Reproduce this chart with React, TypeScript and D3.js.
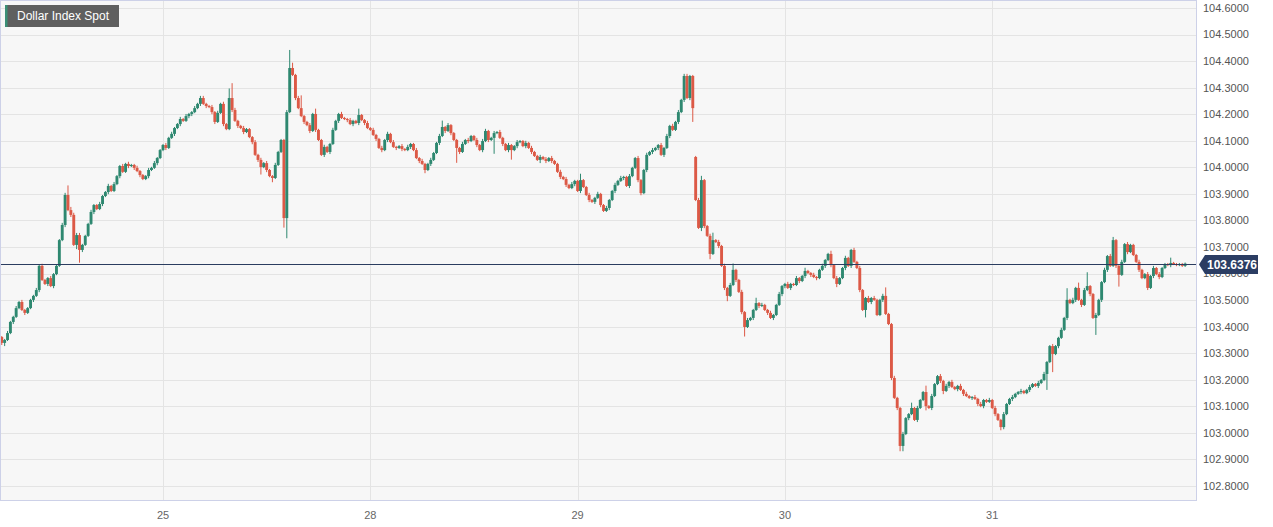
import { useEffect, useRef } from 'react'
import * as d3 from 'd3'

// 20-minute candles, closes (price), one array per trading day
const DAY_LABELS = ['24', '25', '28', '29', '30', '31']
const CANDLE_MINUTES = 20
const FIRST_CANDLE_MINUTE = 320 // 24th, 05:20
const FIRST_OPEN = 103.361

const close24 = [
  103.339, 103.35, 103.376, 103.418, 103.437, 103.47, 103.493, 103.463, 103.452, 103.47,
  103.501, 103.516, 103.538, 103.629, 103.576, 103.561, 103.583, 103.553, 103.598, 103.629,
  103.726, 103.783, 103.896, 103.839, 103.821, 103.708, 103.745, 103.689, 103.708, 103.742,
  103.787, 103.832, 103.858, 103.843, 103.862, 103.892, 103.907, 103.93, 103.911, 103.937,
  103.967, 104.005, 103.983, 104.013, 104.005, 104.009, 103.998, 103.986, 103.971, 103.956,
  103.967, 103.99, 103.998, 104.016, 104.035, 104.065,
]
const close25 = [
  104.084, 104.073, 104.111, 104.126, 104.148, 104.163, 104.182, 104.175, 104.193, 104.201,
  104.208, 104.223, 104.239, 104.261, 104.239, 104.231, 104.227, 104.208, 104.171, 104.205,
  104.239, 104.163, 104.144, 104.261, 104.216, 104.175, 104.156, 104.148, 104.133, 104.144,
  104.114, 104.095, 104.047, 104.028, 104.001, 104.016, 103.99, 103.967, 103.96, 104.009,
  104.058, 104.103, 103.809, 104.208, 104.374, 104.348, 104.261, 104.223, 104.193, 104.171,
  104.159, 104.137, 104.201, 104.141, 104.103, 104.047, 104.077, 104.058, 104.088, 104.141,
  104.175, 104.201, 104.186, 104.182, 104.178, 104.163, 104.175, 104.167, 104.197, 104.178,
  104.167, 104.148,
]
const close28 = [
  104.141, 104.122, 104.107, 104.073, 104.065, 104.103, 104.126, 104.095, 104.077, 104.073,
  104.08, 104.069, 104.065, 104.077, 104.088, 104.065, 104.035, 104.024, 104.013, 103.99,
  104.013, 104.028, 104.054, 104.092, 104.118, 104.152, 104.137, 104.159, 104.129, 104.103,
  104.073, 104.058, 104.088, 104.103, 104.099, 104.118, 104.103, 104.084, 104.065, 104.099,
  104.137, 104.103, 104.111, 104.129, 104.133, 104.111, 104.088, 104.065, 104.084, 104.065,
  104.08, 104.095, 104.099, 104.08, 104.092, 104.073, 104.058, 104.043, 104.028, 104.039,
  104.031, 104.024, 104.035, 104.024, 104.013, 103.983, 103.964, 103.956, 103.934, 103.922,
  103.937, 103.949,
]
const close29 = [
  103.911, 103.952, 103.926, 103.896, 103.877, 103.87, 103.885, 103.9, 103.858, 103.836,
  103.847, 103.877, 103.911, 103.934, 103.949, 103.96, 103.964, 103.93, 103.967, 103.998,
  104.035, 103.952, 103.903, 103.99, 104.047, 104.058, 104.065, 104.073, 104.084, 104.047,
  104.073, 104.118, 104.156, 104.141, 104.171, 104.208, 104.254, 104.344, 104.261, 104.344,
  104.223, 103.877, 103.772, 103.952, 103.779, 103.742, 103.674, 103.726, 103.719, 103.704,
  103.629, 103.546, 103.516, 103.557, 103.614, 103.576, 103.531, 103.455, 103.399, 103.425,
  103.433, 103.463, 103.489, 103.478, 103.482, 103.463, 103.452, 103.433, 103.444, 103.482,
  103.523, 103.553,
]
const close30 = [
  103.561, 103.546, 103.561, 103.557, 103.583, 103.572, 103.591, 103.61, 103.602, 103.595,
  103.587, 103.583, 103.614, 103.629, 103.651, 103.674, 103.632, 103.583, 103.561, 103.583,
  103.621, 103.659, 103.629, 103.689, 103.644, 103.621, 103.538, 103.463, 103.508, 103.493,
  103.508, 103.501, 103.444, 103.501, 103.516, 103.448, 103.41, 103.207, 103.132, 103.094,
  102.951, 102.996, 103.056, 103.071, 103.094, 103.049, 103.094, 103.124, 103.154, 103.101,
  103.094, 103.139, 103.184, 103.214, 103.196, 103.158, 103.177, 103.192, 103.173, 103.165,
  103.177, 103.162, 103.147, 103.139, 103.132, 103.135, 103.128, 103.109, 103.101, 103.124,
  103.117, 103.124,
]
const close31 = [
  103.094, 103.071, 103.049, 103.022, 103.071, 103.109, 103.128, 103.135, 103.147, 103.154,
  103.158, 103.15, 103.162, 103.173, 103.184, 103.177, 103.188, 103.199, 103.222, 103.267,
  103.327, 103.297, 103.327, 103.358, 103.388, 103.433, 103.501, 103.489, 103.501, 103.546,
  103.501, 103.482, 103.538, 103.553, 103.523, 103.433, 103.444, 103.501, 103.568, 103.614,
  103.666, 103.629, 103.726, 103.629, 103.595, 103.644, 103.711, 103.681, 103.708, 103.67,
  103.644, 103.614, 103.583, 103.598, 103.546, 103.591, 103.621, 103.598, 103.587, 103.621,
  103.636, 103.632, 103.64, 103.636, 103.632, 103.636, 103.629, 103.6376,
]

// wick lengths beyond the body, one base-36 digit per candle, in units of WICK_UNIT
const WICK_UNIT = 0.004
const upper24 = '1121121211 1121211211 1229322211 1211211212 1121211211 121211'
const lower24 = '2311211121 1212112121 1121214c21 1121121211 1211212121 121121'
const upper25 = '1212112121 1212211212 1219e21121 1121212112 1112h512c1 1215112112 1121121161 12'
const lower25 = '1211212112 2112121221 1211212121 1212712141 119j112112 1212112121 1211212121 21'
const upper28 = '1211212121 1212112121 1211261211 1121211212 2112121121 1211212112 1212112121 21'
const lower28 = '1121212112 1211211213 1211212121 e211211212 121f112129 1211212113 1212112121 12'
const upper29 = '1611211211 2112121121 1211212112 1212121221 1124112712 1212611212 1151211211 21'
const lower29 = '1211212121 1212112121 1221212121 2121121212 d113215112 1251121291 1212112121 12'
const upper30 = '1211211311 2112113121 1211212112 1211281121 1211512116 1211212121 1212112121 12'
const lower30 = '2121121212 1211212131 1212112171 2111211212 5512112114 1211231211 2121121212 11'
const upper31 = '1211211211 2112112121 121121b121 512d112112 1231121211 1211212121 11511111'
const lower31 = '1213211211 211211211f 1h12112112 121121g121 2112b11211 1211212121 11211111'

// the one candle that opened away from the previous close
const OPEN_GAPS = [{ day: '29', index: 41, open: 104.039 }]

const Y_TICKS = [
  104.6, 104.5, 104.4, 104.3, 104.2, 104.1, 104.0, 103.9, 103.8, 103.7,
  103.6, 103.5, 103.4, 103.3, 103.2, 103.1, 103.0, 102.9, 102.8,
]
const X_TICK_LABELS = ['25', '28', '29', '30', '31']

const CLOSES = [close24, close25, close28, close29, close30, close31]
const UPPERS = [upper24, upper25, upper28, upper29, upper30, upper31]
const LOWERS = [lower24, lower25, lower28, lower29, lower30, lower31]

const GREEN = '#2e8870'
const RED = '#dc5946'
const FONT = '"Liberation Sans", Arial, sans-serif'

interface Candle {
  t: number
  open: number
  high: number
  low: number
  close: number
}

function buildCandles(): Candle[] {
  const out: Candle[] = []
  let prev = FIRST_OPEN
  CLOSES.forEach((closes, di) => {
    const up = UPPERS[di].replace(/\s/g, '')
    const dn = LOWERS[di].replace(/\s/g, '')
    const startMin = di === 0 ? FIRST_CANDLE_MINUTE : 0
    closes.forEach((close, j) => {
      const gap = OPEN_GAPS.find((g) => g.day === DAY_LABELS[di] && g.index === j)
      const open = gap ? gap.open : prev
      const u = parseInt(up[j] ?? '1', 36) * WICK_UNIT
      const d = parseInt(dn[j] ?? '1', 36) * WICK_UNIT
      out.push({
        t: di + (startMin + j * CANDLE_MINUTES) / 1440,
        open,
        close,
        high: Math.max(open, close) + u,
        low: Math.min(open, close) - d,
      })
      prev = close
    })
  })
  return out
}

export default function App() {
  const svgRef = useRef<SVGSVGElement>(null)

  useEffect(() => {
    if (!svgRef.current) return
    const width = 1273
    const height = 527
    const plotW = 1196
    const plotH = 500

    const candles = buildCandles()
    const last = candles[candles.length - 1]

    const x = d3.scaleLinear().domain([0.2137, 5.983]).range([0, plotW])
    const y = d3.scaleLinear().domain([102.7475, 104.6301]).range([plotH, 0])

    const svg = d3.select(svgRef.current)
    svg.selectAll('*').remove()
    svg.attr('width', width).attr('height', height)

    svg.append('rect').attr('width', width).attr('height', height).attr('fill', '#ffffff')
    svg.append('rect').attr('width', plotW).attr('height', plotH).attr('fill', '#f7f7f7')

    svg
      .append('defs')
      .append('clipPath')
      .attr('id', 'plot-clip')
      .append('rect')
      .attr('width', plotW)
      .attr('height', plotH)

    // grid
    const grid = svg.append('g').attr('stroke', '#e4e4e4').attr('stroke-width', 1)
    grid
      .selectAll('.hgrid')
      .data(Y_TICKS)
      .join('line')
      .attr('x1', 0)
      .attr('x2', plotW)
      .attr('y1', (d) => Math.round(y(d)) + 0.5)
      .attr('y2', (d) => Math.round(y(d)) + 0.5)
    grid
      .selectAll('.vgrid')
      .data(X_TICK_LABELS)
      .join('line')
      .attr('x1', (_, i) => Math.round(x(i + 1)) + 0.5)
      .attr('x2', (_, i) => Math.round(x(i + 1)) + 0.5)
      .attr('y1', 0)
      .attr('y2', plotH)

    // candles
    const cg = svg.append('g').attr('clip-path', 'url(#plot-clip)')
    const colorOf = (d: Candle) => (d.close >= d.open ? GREEN : RED)
    cg.selectAll('.wick')
      .data(candles)
      .join('line')
      .attr('x1', (d) => x(d.t))
      .attr('x2', (d) => x(d.t))
      .attr('y1', (d) => y(d.high))
      .attr('y2', (d) => y(d.low))
      .attr('stroke', colorOf)
      .attr('stroke-width', 1)
    cg.selectAll('.body')
      .data(candles)
      .join('rect')
      .attr('x', (d) => x(d.t) - 1.45)
      .attr('width', 2.9)
      .attr('y', (d) => y(Math.max(d.open, d.close)))
      .attr('height', (d) => Math.max(1, Math.abs(y(d.open) - y(d.close))))
      .attr('fill', colorOf)

    // current price line
    const py = Math.round(y(last.close)) + 0.5
    svg
      .append('line')
      .attr('x1', 0)
      .attr('x2', plotW)
      .attr('y1', py)
      .attr('y2', py)
      .attr('stroke', '#2b3d60')
      .attr('stroke-width', 1)

    // frame
    svg
      .append('rect')
      .attr('x', 0.5)
      .attr('y', 0.5)
      .attr('width', plotW)
      .attr('height', plotH)
      .attr('fill', 'none')
      .attr('stroke', '#cdd1e8')

    // y axis labels
    svg
      .append('g')
      .selectAll('text')
      .data(Y_TICKS)
      .join('text')
      .attr('x', plotW + 7)
      .attr('y', (d) => y(d))
      .attr('dy', '0.35em')
      .attr('font-family', FONT)
      .attr('font-size', 11)
      .attr('fill', '#555')
      .text((d) => d3.format('.4f')(d))

    // x axis labels
    svg
      .append('g')
      .selectAll('text')
      .data(X_TICK_LABELS)
      .join('text')
      .attr('x', (_, i) => x(i + 1))
      .attr('y', plotH + 15)
      .attr('dy', '0.35em')
      .attr('text-anchor', 'middle')
      .attr('font-family', FONT)
      .attr('font-size', 11)
      .attr('fill', '#666')
      .text((d) => d)

    // last price tag
    const tag = svg.append('g')
    tag
      .append('path')
      .attr(
        'd',
        `M${plotW + 3},${py} L${plotW + 9},${py - 9.5} L${plotW + 62},${py - 9.5} L${plotW + 62},${py + 9.5} L${plotW + 9},${py + 9.5} Z`
      )
      .attr('fill', '#2b3d63')
    tag
      .append('text')
      .attr('x', plotW + 36)
      .attr('y', py)
      .attr('dy', '0.36em')
      .attr('text-anchor', 'middle')
      .attr('font-family', FONT)
      .attr('font-size', 12)
      .attr('font-weight', 'bold')
      .attr('fill', '#ffffff')
      .text(d3.format('.4f')(last.close))

    // title badge
    const title = svg.append('g')
    title.append('rect').attr('x', 5).attr('y', 5).attr('width', 114).attr('height', 22).attr('fill', '#5f5f5f')
    title.append('rect').attr('x', 5).attr('y', 5).attr('width', 2.5).attr('height', 22).attr('fill', '#3a8f76')
    title
      .append('text')
      .attr('x', 17)
      .attr('y', 16)
      .attr('dy', '0.35em')
      .attr('font-family', FONT)
      .attr('font-size', 12)
      .attr('fill', '#ffffff')
      .text('Dollar Index Spot')
  }, [])

  return (
    <svg
      ref={svgRef}
      style={{ position: 'absolute', left: 0, top: 0, display: 'block' }}
      role="img"
      aria-label="Dollar Index Spot candlestick chart"
    />
  )
}
